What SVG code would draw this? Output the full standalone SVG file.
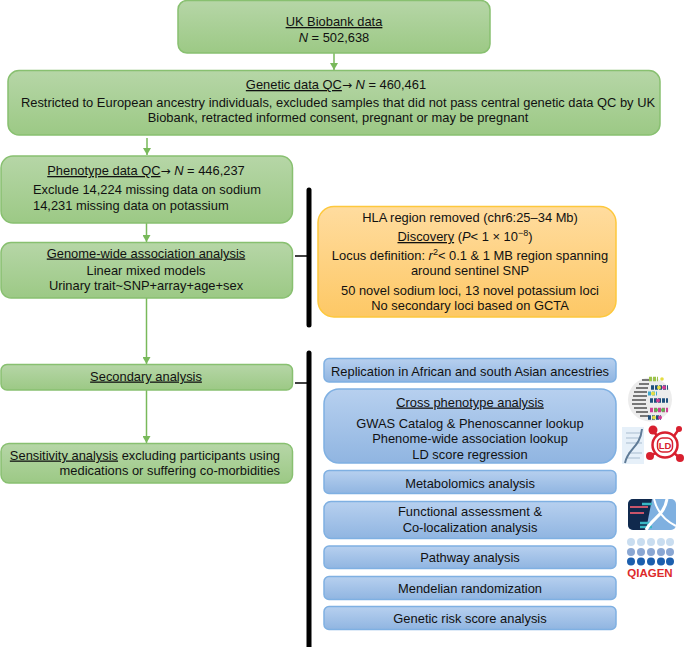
<svg xmlns="http://www.w3.org/2000/svg" width="685" height="647" viewBox="0 0 685 647">
<style>
text{font-family:"Liberation Sans",Arial,sans-serif;font-size:12.9px;fill:#111;text-anchor:middle}
.u{text-decoration:underline}
.i{font-style:italic}
.ar{font-family:"DejaVu Sans",sans-serif;font-size:12px}
.g{fill:url(#gg);stroke:#88c070;stroke-width:1.5}
.o{fill:url(#go);stroke:#fdc83c;stroke-width:1.5}
.b{fill:url(#gb);stroke:#7fb0e2;stroke-width:1.5}
.a{stroke:#78b95a;stroke-width:1.5;fill:none}
.k{stroke:#000;fill:none}
</style>
<defs>
<linearGradient id="gg" x1="0" y1="0" x2="0" y2="1"><stop offset="0" stop-color="#b6d6a7"/><stop offset="1" stop-color="#9cc985"/></linearGradient>
<linearGradient id="go" x1="0" y1="0" x2="0" y2="1"><stop offset="0" stop-color="#ffdc9f"/><stop offset="1" stop-color="#fdc865"/></linearGradient>
<linearGradient id="gb" x1="0" y1="0" x2="0" y2="1"><stop offset="0" stop-color="#b7d0ef"/><stop offset="1" stop-color="#90b5e1"/></linearGradient>
<marker id="ah" markerWidth="8" markerHeight="8" refX="7" refY="4" orient="auto" markerUnits="userSpaceOnUse"><path d="M0,0L7,4L0,8Z" fill="#78b95a"/></marker>
</defs>
<g id="connectors">
<path class="a" d="M334,53V70" marker-end="url(#ah)"/>
<path class="a" d="M147,138V155" marker-end="url(#ah)"/>
<path class="a" d="M146.500,223V242" marker-end="url(#ah)"/>
<path class="a" d="M146.500,298V364" marker-end="url(#ah)"/>
<path class="a" d="M146.500,390V443" marker-end="url(#ah)"/>
<path class="k" stroke-width="5" stroke-linecap="round" d="M309,190V325"/>
<path class="k" stroke-width="5" stroke-linecap="round" d="M309,353V650"/>
<path class="k" stroke-width="1.500" d="M295,256H308"/>
<path class="k" stroke-width="1.500" d="M295,383H308"/>
</g>
<g id="n-biobank"><rect class="g" x="178" y="0.500" width="312" height="52.500" rx="9"/>
<text x="334" y="26" class="u">UK Biobank data</text><text x="334" y="41.500"><tspan class="i">N</tspan> = 502,638</text></g>
<g id="n-genetic"><rect class="g" x="8" y="70.500" width="652" height="64.500" rx="11"/>
<text x="336" y="89"><tspan class="u">Genetic data QC</tspan><tspan class="ar">→</tspan> <tspan class="i">N</tspan> = 460,461</text>
<text x="338" y="107">Restricted to European ancestry individuals, excluded samples that did not pass central genetic data QC by UK</text>
<text x="338" y="122">Biobank, retracted informed consent, pregnant or may be pregnant</text></g>
<g id="n-phenotype"><rect class="g" x="1" y="156" width="291.500" height="67" rx="12"/>
<text x="146" y="175"><tspan class="u">Phenotype data QC</tspan><tspan class="ar">→</tspan> <tspan class="i">N</tspan> = 446,237</text>
<text x="33" y="194" style="text-anchor:start">Exclude 14,224 missing data on sodium</text>
<text x="33" y="210" style="text-anchor:start">14,231 missing data on potassium</text></g>
<g id="n-gwas"><rect class="g" x="1" y="242.500" width="291.500" height="55.500" rx="10"/>
<text x="146" y="257.500" class="u">Genome-wide association analysis</text>
<text x="146" y="274.500">Linear mixed models</text>
<text x="146" y="290">Urinary trait~SNP+array+age+sex</text></g>
<g id="n-discovery"><rect class="o" x="318" y="206.500" width="298" height="110.500" rx="16"/>
<text x="470" y="222">HLA region removed (chr6:25–34 Mb)</text>
<text x="465" y="241"><tspan class="u">Discovery</tspan> (<tspan class="i">P</tspan>&lt; 1 × 10<tspan dy="-5" font-size="9">−8</tspan><tspan dy="5">)</tspan></text>
<text x="470" y="260">Locus definition: <tspan class="i">r</tspan><tspan dy="-5" font-size="9">2</tspan><tspan dy="5">&lt; 0.1 &amp; 1 MB region spanning</tspan></text>
<text x="470" y="275">around sentinel SNP</text>
<text x="470" y="294.500">50 novel sodium loci, 13 novel potassium loci</text>
<text x="470" y="309.500">No secondary loci based on GCTA</text></g>
<g id="n-secondary"><rect class="g" x="1" y="364.500" width="291.500" height="25.500" rx="6"/>
<text x="146" y="380.500" class="u">Secondary analysis</text></g>
<g id="n-sensitivity"><rect class="g" x="1" y="443.500" width="291.500" height="39.500" rx="8"/>
<text x="280" y="459.500" style="text-anchor:end"><tspan class="u">Sensitivity analysis</tspan> excluding participants using</text>
<text x="280" y="474.500" style="text-anchor:end">medications or suffering co-morbidities</text></g>
<g id="n-replication"><rect class="b" x="324" y="358.500" width="292" height="23.500" rx="5"/>
<text x="470" y="376">Replication in African and south Asian ancestries</text></g>
<g id="n-cross"><rect class="b" x="324" y="389" width="292" height="74" rx="15"/>
<text x="470" y="406.500" class="u">Cross phenotype analysis</text>
<text x="470" y="427.500">GWAS Catalog &amp; Phenoscanner lookup</text>
<text x="470" y="443">Phenome-wide association lookup</text>
<text x="470" y="458.500">LD score regression</text></g>
<g id="n-metabolomics"><rect class="b" x="324" y="470.500" width="292" height="23" rx="5"/>
<text x="470" y="487.500">Metabolomics analysis</text></g>
<g id="n-functional"><rect class="b" x="324" y="501.500" width="292" height="37" rx="7"/>
<text x="470" y="516">Functional assessment &amp;</text>
<text x="470" y="531.500">Co-localization analysis</text></g>
<g id="n-pathway"><rect class="b" x="324" y="546" width="292" height="22.500" rx="5"/>
<text x="470" y="562">Pathway analysis</text></g>
<g id="n-mendelian"><rect class="b" x="324" y="576.500" width="292" height="23" rx="5"/>
<text x="470" y="592.500">Mendelian randomization</text></g>
<g id="n-grs"><rect class="b" x="324" y="606.500" width="292" height="23" rx="5"/>
<text x="470" y="622.500">Genetic risk score analysis</text></g>
<g id="icon-gwas">
<circle cx="650" cy="399.500" r="22" fill="#ececec"/>
<path d="M642,380h7M639,384h10M636,388h12M634,392h13M633,396h14M632,400h14M632,404h14M634,408h13M636,412h12M640,416h9" stroke="#777" stroke-width="2" fill="none"/>
<path d="M649,379H658" stroke="#9cc34a" stroke-width="4.500" stroke-dasharray="3 1"/>
<path d="M651,387.500H668" stroke="#1f4f7d" stroke-width="4.500" stroke-dasharray="3 1"/>
<path d="M648,393.500H657" stroke="#3fa9d0" stroke-width="4" stroke-dasharray="3 1"/>
<path d="M650,400.500H668" stroke="#1f4f7d" stroke-width="4.500" stroke-dasharray="3 1"/>
<path d="M650,410H668" stroke="#d23c95" stroke-width="4.500" stroke-dasharray="3 1"/>
<path d="M648,417.500H661" stroke="#1f4f7d" stroke-width="4.500" stroke-dasharray="3 1"/>
<g fill="#e4dc40"><circle cx="659" cy="387.500" r="2"/><circle cx="662" cy="379" r="1.800"/><circle cx="653" cy="393.500" r="2"/><circle cx="654" cy="417.500" r="2"/></g>
<g fill="#d23c95"><circle cx="664" cy="387.500" r="2"/><circle cx="658" cy="400.500" r="2"/><circle cx="660" cy="417.500" r="2"/></g>
<g fill="#5fb050"><circle cx="656" cy="410" r="2"/><circle cx="663" cy="410" r="2"/></g>
</g>
<g id="icon-phewas">
<rect x="622" y="427" width="22" height="37" fill="#e6f0f9"/>
<path d="M626,433H642M626,438H640M626,443H642M628,453H642M628,458H640" stroke="#a9bdd0" stroke-width="1" fill="none"/>
<path d="M625,463C628,448 640,448 642,429" stroke="#5f7b97" stroke-width="2" fill="none"/>
</g>
<g id="icon-ld" fill="#d8202f" stroke="#d8202f">
<circle cx="665" cy="445" r="12.500" fill="none" stroke-width="2.500"/>
<rect x="657.500" y="438" width="15" height="14" rx="5" fill="none" stroke-width="1.500"/>
<path d="M657,436L653,430M674,436L679,429M656,453L650,456M674,453L680,458" stroke-width="2.500" fill="none"/>
<g stroke="none"><circle cx="653" cy="430" r="4.500"/><circle cx="679" cy="429" r="3"/><circle cx="650" cy="456" r="4"/><circle cx="680" cy="458" r="4"/>
<text x="665" y="448.500" style="font-size:9.500px;font-weight:bold;fill:#d8202f">LD</text></g>
</g>
<g id="icon-coloc">
<rect x="628" y="499" width="48" height="31" rx="5" fill="#7fb0e0"/>
<path d="M628,504a5,5 0 0 1 5,-5H652L646,530H633a5,5 0 0 1 -5,-5Z" fill="#10294d"/>
<path d="M630,507H648M630,513H644" stroke="#c9556a" stroke-width="2" fill="none"/>
<path d="M640,523H650M640,527H652M642,504H652" stroke="#39b7c4" stroke-width="2.500" fill="none"/>
<path d="M646,530C652,518 664,516 667,499" stroke="#fff" stroke-width="3" fill="none"/>
<path d="M654,499C657,512 664,520 676,526" stroke="#fff" stroke-width="2" fill="none"/>
</g>
<g id="icon-qiagen">
<g fill="#c9ddf0"><circle cx="631" cy="542" r="4"/><circle cx="641" cy="542" r="4"/><circle cx="651" cy="542" r="4"/><circle cx="661" cy="542" r="4"/><circle cx="670" cy="542" r="4"/></g>
<g fill="#8aa7d3"><circle cx="631" cy="552" r="4"/><circle cx="641" cy="552" r="4"/><circle cx="651" cy="552" r="4"/><circle cx="661" cy="552" r="4"/><circle cx="670" cy="552" r="4"/></g>
<g fill="#1c5fae"><circle cx="631" cy="561.500" r="4"/><circle cx="641" cy="561.500" r="4"/><circle cx="651" cy="561.500" r="4"/><circle cx="661" cy="561.500" r="4"/><circle cx="670" cy="561.500" r="4"/></g>
<text x="650" y="577" style="font-size:11.500px;font-weight:bold;fill:#dd2a2a">QIAGEN</text>
</g>
</svg>
